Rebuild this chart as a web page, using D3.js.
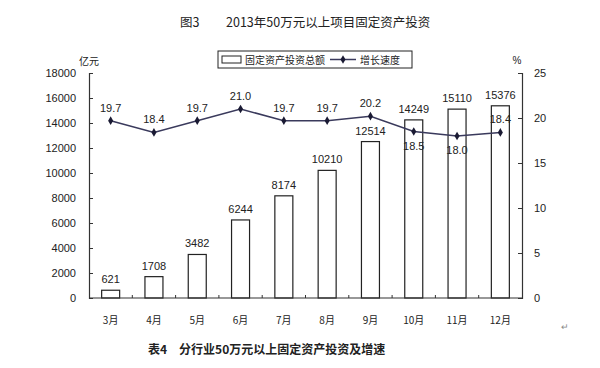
<!DOCTYPE html>
<html>
<head>
<meta charset="utf-8">
<script src="https://cdn.jsdelivr.net/npm/d3@7"></script>
<style>
  body { margin: 0; background: #fff; }
  svg text { font-family: "Liberation Sans", "Noto Sans CJK SC", sans-serif; fill: #222; }
  .cjk { font-family: "Noto Sans CJK SC", sans-serif; }
</style>
</head>
<body>
<div id="chart"></div>
<script>
var months = ["3月","4月","5月","6月","7月","8月","9月","10月","11月","12月"];
var investment = [621, 1708, 3482, 6244, 8174, 10210, 12514, 14249, 15110, 15376];
var growth = [19.7, 18.4, 19.7, 21.0, 19.7, 19.7, 20.2, 18.5, 18.0, 18.4];
var leftTicks = [0, 2000, 4000, 6000, 8000, 10000, 12000, 14000, 16000, 18000];
var rightTicks = [0, 5, 10, 15, 20, 25];

var W = 600, H = 368,
    m = { top: 73, left: 89, right: 78, bottom: 70 },
    w = W - m.left - m.right,
    h = H - m.top - m.bottom;

var svg = d3.select("#chart").append("svg")
    .attr("width", W)
    .attr("height", H);

var g = svg.append("g")
    .attr("transform", "translate(" + m.left + "," + m.top + ")");

var xb = d3.scaleBand().domain(months).range([0, w]);
var yl = d3.scaleLinear().domain([0, 18000]).range([h, 0]);
var yr = d3.scaleLinear().domain([0, 25]).range([h, 0]);

// bars
g.selectAll("rect.bar")
    .data(investment)
  .enter().append("rect")
    .attr("class", "bar")
    .attr("x", function(d, i){ return xb(months[i]) + (xb.bandwidth() - 18) / 2; })
    .attr("width", 18)
    .attr("y", function(d){ return yl(d); })
    .attr("height", function(d){ return h - yl(d); })
    .style("fill", "#fff")
    .style("stroke", "#222")
    .style("stroke-width", 1.2);

g.selectAll("text.barlab")
    .data(investment)
  .enter().append("text")
    .attr("class", "barlab")
    .attr("x", function(d, i){ return xb(months[i]) + xb.bandwidth() / 2; })
    .attr("y", function(d){ return yl(d) - 7; })
    .attr("text-anchor", "middle")
    .style("font-size", "11px")
    .text(function(d){ return d; });

// axes
var axL = g.append("g")
    .call(d3.axisLeft(yl).tickValues(leftTicks).tickFormat(d3.format("d")).tickSize(-4).tickPadding(13));
var axR = g.append("g")
    .attr("transform", "translate(" + w + ",0)")
    .call(d3.axisRight(yr).tickValues(rightTicks).tickFormat(d3.format("d")).tickSize(-4).tickPadding(12));
[axL, axR].forEach(function(a){
    a.select(".domain").style("stroke", "#333").style("stroke-width", 1.2);
    a.selectAll(".tick line").style("stroke", "#333");
    a.selectAll("text").style("font-size", "11px").style("fill", "#222")
      .style("font-family", "Liberation Sans, sans-serif");
});

var axB = g.append("g").attr("transform", "translate(0," + h + ")");
axB.append("line").attr("x1", 0).attr("x2", w).style("stroke", "#333").style("stroke-width", 1.2);
axB.selectAll("line.t")
    .data(months.slice(1))
  .enter().append("line")
    .attr("x1", function(d){ return xb(d); })
    .attr("x2", function(d){ return xb(d); })
    .attr("y1", 0).attr("y2", -3)
    .style("stroke", "#333");
axB.selectAll("text")
    .data(months)
  .enter().append("text")
    .attr("class", "cjk")
    .attr("x", function(d){ return xb(d) + xb.bandwidth() / 2; })
    .attr("y", 26)
    .attr("text-anchor", "middle")
    .style("font-size", "10px")
    .text(function(d){ return d; });

// growth line
var line = d3.line()
    .x(function(d, i){ return xb(months[i]) + xb.bandwidth() / 2; })
    .y(function(d){ return yr(d); });

g.append("path")
    .datum(growth)
    .attr("d", line)
    .style("fill", "none")
    .style("stroke", "#3a3a5c")
    .style("stroke-width", 1.5);

g.selectAll("path.dot")
    .data(growth)
  .enter().append("path")
    .attr("class", "dot")
    .attr("d", d3.symbol().type(d3.symbolDiamond).size(22))
    .attr("transform", function(d, i){
        return "translate(" + (xb(months[i]) + xb.bandwidth() / 2) + "," + yr(d) + ")";
    })
    .style("fill", "#1a1a33");

g.selectAll("text.linelab")
    .data(growth)
  .enter().append("text")
    .attr("class", "linelab")
    .attr("x", function(d, i){ return xb(months[i]) + xb.bandwidth() / 2; })
    .attr("y", function(d, i){ return (i === 7 || i === 8) ? yr(d) + 18 : yr(d) - 9; })
    .attr("text-anchor", "middle")
    .style("font-size", "11px")
    .text(function(d){ return d.toFixed(1); });

// units
svg.append("text").attr("class", "cjk").attr("x", 89).attr("y", 65)
    .attr("text-anchor", "middle").style("font-size", "10px").text("亿元");
svg.append("text").attr("x", 517).attr("y", 64)
    .attr("text-anchor", "middle").style("font-size", "10px").text("%");

// title
svg.append("text").attr("class", "cjk").attr("x", 180).attr("y", 27)
    .style("font-size", "12.5px").text("图3");
svg.append("text").attr("class", "cjk").attr("x", 226).attr("y", 27)
    .style("font-size", "12.5px").text("2013年50万元以上项目固定资产投资");

// legend
var lg = svg.append("g").attr("transform", "translate(218,51)");
lg.append("rect").attr("width", 194).attr("height", 17)
    .style("fill", "#fff").style("stroke", "#222");
lg.append("rect").attr("x", 4).attr("y", 5).attr("width", 19).attr("height", 7)
    .style("fill", "#fff").style("stroke", "#222");
lg.append("text").attr("class", "cjk").attr("x", 27).attr("y", 13)
    .style("font-size", "10px").text("固定资产投资总额");
lg.append("line").attr("x1", 112).attr("x2", 138).attr("y1", 8.5).attr("y2", 8.5)
    .style("stroke", "#3a3a5c").style("stroke-width", 1.5);
lg.append("path").attr("d", d3.symbol().type(d3.symbolDiamond).size(22))
    .attr("transform", "translate(125,8.5)").style("fill", "#1a1a33");
lg.append("text").attr("class", "cjk").attr("x", 142).attr("y", 13)
    .style("font-size", "10px").text("增长速度");

// caption
svg.append("text").attr("class", "cjk").attr("x", 148).attr("y", 354)
    .style("font-size", "12px").style("font-weight", "bold")
    .text("表4　分行业50万元以上固定资产投资及增速");
svg.append("text").attr("x", 561).attr("y", 330)
    .style("font-size", "9px").style("fill", "#888").text("↵");
</script>
</body>
</html>
